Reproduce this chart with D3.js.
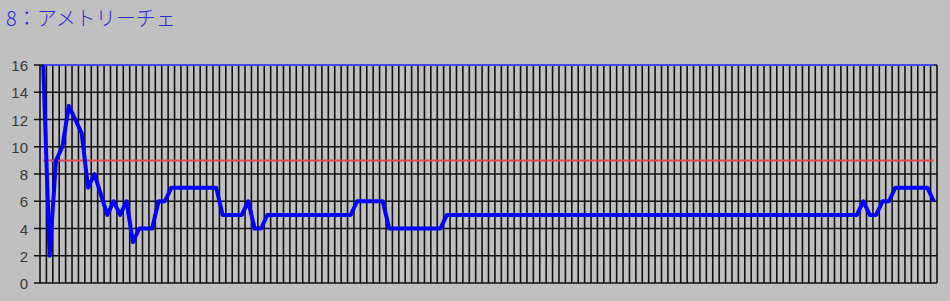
<!DOCTYPE html>
<html lang="ja">
<head>
    <meta charset="UTF-8">
    <title>8：アメトリーチェ</title>
    <script src="https://d3js.org/d3.v7.min.js"></script>
    <style>
        body { margin: 0; background: #c0c0c0; }
        svg { display: block; }
        .title { font-family: "Noto Sans CJK JP", sans-serif; font-size: 20px; font-weight: 300; fill: #2b2bd6; }
        .ylab { font-family: "Liberation Sans", Arial, sans-serif; font-size: 15px; fill: #3a3a3a; }
        .grid line { stroke: #111; stroke-width: 1.6; }
        .series { fill: none; stroke: #0000ff; stroke-width: 4; stroke-linejoin: round; }
        .limit { fill: none; stroke: #e84848; stroke-width: 2; }
        .upper { fill: none; stroke: #4848e8; stroke-width: 2; }
    </style>
</head>
<body>
    <svg width="950" height="301"></svg>
    <script>
        // 値 (1 本の系列、140 点)
        const values = [
            16, 2, 9, 10, 13, 12, 11, 7, 8, 6.5,
            5, 6, 5, 6, 3, 4, 4, 4, 6, 6,
            7, 7, 7, 7, 7, 7, 7, 7, 5, 5,
            5, 5, 6, 4, 4, 5, 5, 5, 5, 5,
            5, 5, 5, 5, 5, 5, 5, 5, 5, 6,
            6, 6, 6, 6, 4, 4, 4, 4, 4, 4,
            4, 4, 4, 5, 5, 5, 5, 5, 5, 5,
            5, 5, 5, 5, 5, 5, 5, 5, 5, 5,
            5, 5, 5, 5, 5, 5, 5, 5, 5, 5,
            5, 5, 5, 5, 5, 5, 5, 5, 5, 5,
            5, 5, 5, 5, 5, 5, 5, 5, 5, 5,
            5, 5, 5, 5, 5, 5, 5, 5, 5, 5,
            5, 5, 5, 5, 5, 5, 5, 5, 6, 5,
            5, 6, 6, 7, 7, 7, 7, 7, 7, 6
        ];
        const categories = values.map(function(d, i) { return i + 1; });
        const yTicks = [0, 2, 4, 6, 8, 10, 12, 14, 16];
        const limitValue = 9;
        const upperValue = 16;
        const titleText = "8：アメトリーチェ";

        const svg = d3.select("svg"),
              plotLeft = 40, plotRight = 937, plotTop = 65, plotBottom = 283;

        const x = d3.scaleBand().domain(categories).range([plotLeft, plotRight]),
              y = d3.scaleLinear().domain([0, 16]).range([plotBottom, plotTop]);

        svg.append("text").attr("class", "title")
            .attr("x", 6).attr("y", 26).text(titleText);

        // 縦の格子線
        const bounds = categories.map(function(c) { return x(c); }).concat([plotRight]);
        svg.append("g").attr("class", "grid")
            .selectAll("line").data(bounds).join("line")
            .attr("x1", function(d) { return d; }).attr("x2", function(d) { return d; })
            .attr("y1", plotTop).attr("y2", plotBottom);

        // 横の格子線と目盛
        svg.append("g").attr("class", "grid")
            .selectAll("line").data(yTicks).join("line")
            .attr("x1", plotLeft - 6).attr("x2", plotRight)
            .attr("y1", function(d) { return y(d); }).attr("y2", function(d) { return y(d); });

        svg.append("g").selectAll("text").data(yTicks).join("text")
            .attr("class", "ylab")
            .attr("x", 28).attr("y", function(d) { return y(d) + 6; })
            .attr("text-anchor", "end")
            .text(function(d) { return d; });

        const cx = function(c) { return x(c) + x.bandwidth() / 2; };

        const flat = function(v) {
            return d3.line().x(function(c) { return cx(c); }).y(function() { return y(v); });
        };

        svg.append("path").datum(categories).attr("class", "upper").attr("d", flat(upperValue));
        svg.append("path").datum(categories).attr("class", "limit").attr("d", flat(limitValue));

        const line = d3.line()
            .x(function(d, i) { return cx(categories[i]); })
            .y(function(d) { return y(d); });

        svg.append("path").datum(values).attr("class", "series").attr("d", line);
    </script>
</body>
</html>
